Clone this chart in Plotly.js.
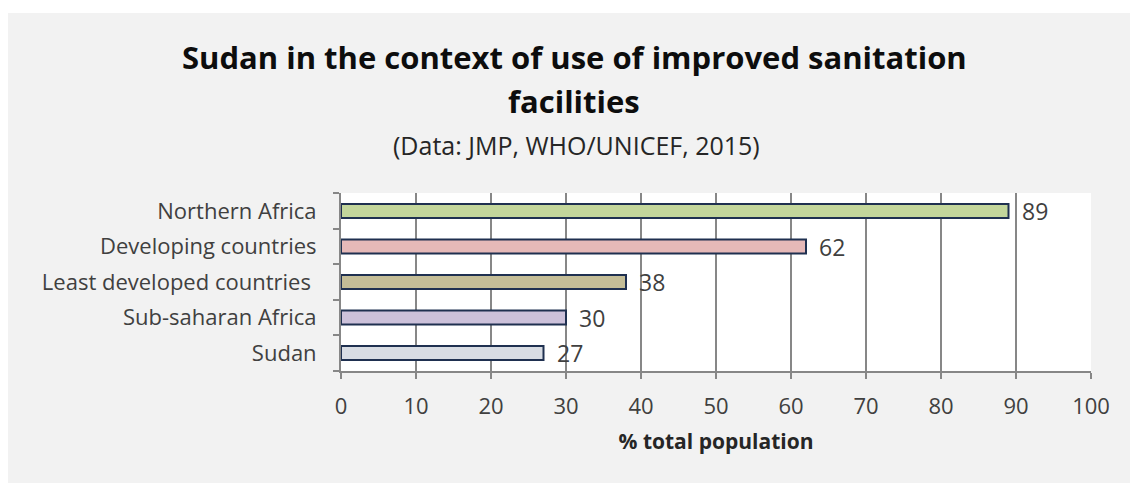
<!DOCTYPE html>
<html>
<head>
<meta charset="utf-8">
<script src="https://cdn.plot.ly/plotly-3.0.1.min.js"></script>
<style>
  html, body { margin: 0; padding: 0; background: #ffffff; }
  #chart { position: absolute; left: 8px; top: 13px; width: 1122px; height: 470px; }
</style>
</head>
<body>
<div id="chart"></div>
<script>
// Use of improved sanitation facilities, % of total population (JMP, WHO/UNICEF, 2015)
const regions = ['Sudan', 'Sub-saharan Africa', 'Least developed countries\u00a0', 'Developing countries', 'Northern Africa'];
const sanitation = [27, 30, 38, 62, 89];
const barColors = ['#d8dce3', '#ccc1da', '#c4bd97', '#e6b9b8', '#c3d69b'];
const xTicks = [0, 10, 20, 30, 40, 50, 60, 70, 80, 90, 100];

const font = '"Open Sans", Lato, sans-serif';
const textColor = '#404040';

const trace = {
  type: 'bar',
  orientation: 'h',
  x: sanitation,
  y: regions,
  width: 0.4,
  marker: { color: barColors, line: { color: '#1f3050', width: 2 } },
  hoverinfo: 'x+y'
};

// value labels just beyond the bar ends
const valueLabels = sanitation.map((v, i) => ({
  x: v, y: regions[i], xref: 'x', yref: 'y',
  text: String(v), showarrow: false,
  xanchor: 'left', yanchor: 'middle', xshift: 11,
  font: { family: font, size: 23, color: textColor }
}));

const toPaperX = px => (px - 333) / 750;

const layout = {
  width: 1122, height: 470,
  paper_bgcolor: '#f2f2f2',
  plot_bgcolor: '#ffffff',
  margin: { l: 333, r: 39, t: 180, b: 112 },
  showlegend: false,
  font: { family: font, color: textColor },
  xaxis: {
    range: [0, 100],
    tickvals: xTicks,
    ticktext: xTicks.map(String),
    showgrid: true, gridcolor: '#878787', gridwidth: 1.5,
    showline: true, linecolor: '#878787', linewidth: 2,
    ticks: 'outside', ticklen: 6, tickcolor: '#878787', tickwidth: 2,
    tickfont: { family: font, size: 22, color: textColor },
    ticklabelstandoff: 9,
    zeroline: false,
    title: { text: '<b>% total population</b>', font: { family: font, size: 21, color: '#262626' }, standoff: 15 }
  },
  yaxis: {
    showline: true, linecolor: '#878787', linewidth: 2,
    ticks: 'outside', ticklen: 6, tickcolor: '#878787', tickwidth: 2,
    tickson: 'boundaries',
    showgrid: false,
    tickfont: { family: font, size: 22, color: textColor },
    ticklabelstandoff: 18,
    categoryorder: 'array', categoryarray: regions
  },
  annotations: [
    {
      xref: 'paper', yref: 'paper', x: toPaperX(566), y: 1 + (193 - 57) / 178,
      text: '<b>Sudan in the context of use of improved sanitation</b>',
      showarrow: false, xanchor: 'center', yanchor: 'middle',
      font: { family: font, size: 31, color: '#0d0d0d' }
    },
    {
      xref: 'paper', yref: 'paper', x: toPaperX(566), y: 1 + (193 - 101) / 178,
      text: '<b>facilities</b>',
      showarrow: false, xanchor: 'center', yanchor: 'middle',
      font: { family: font, size: 31, color: '#0d0d0d' }
    },
    {
      xref: 'paper', yref: 'paper', x: toPaperX(568), y: 1 + (193 - 145) / 178,
      text: '(Data: JMP, WHO/UNICEF, 2015)',
      showarrow: false, xanchor: 'center', yanchor: 'middle',
      font: { family: font, size: 25, color: '#262626' }
    }
  ].concat(valueLabels)
};

Plotly.newPlot('chart', [trace], layout, { displayModeBar: false, staticPlot: true });
</script>
</body>
</html>
